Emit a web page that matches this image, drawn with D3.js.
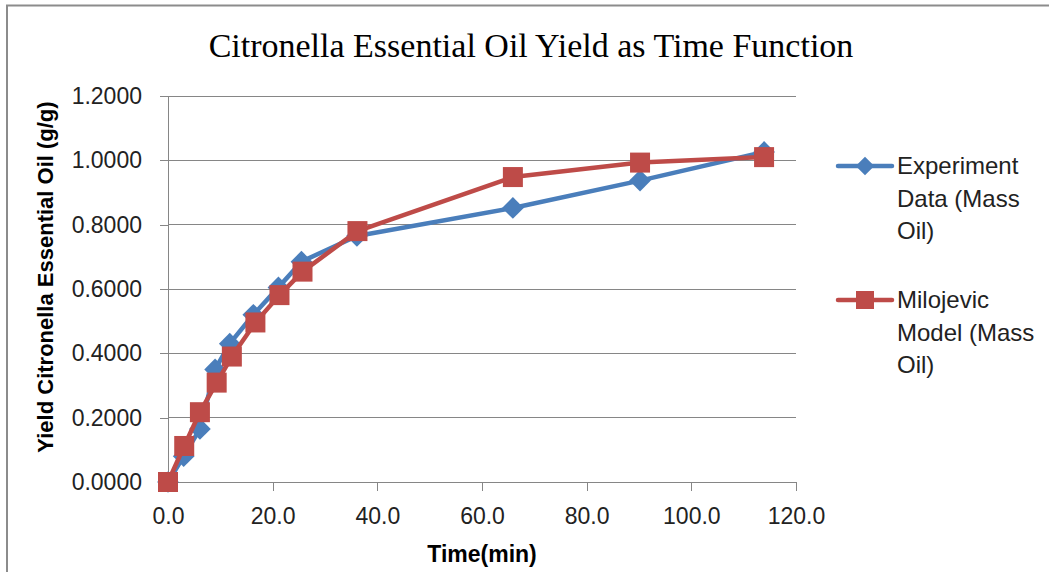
<!DOCTYPE html>
<html><head><meta charset="utf-8">
<script src="https://cdn.jsdelivr.net/npm/d3@7"></script>
<style>html,body{margin:0;padding:0;background:#fff;}svg{display:block;}</style>
</head><body>
<svg id="chart" width="1049" height="572"></svg>
<script>
const title = "Citronella Essential Oil Yield as Time Function";
const xLabel = "Time(min)";
const yLabel = "Yield Citronella Essential Oil (g/g)";
const xTicks = [0, 20, 40, 60, 80, 100, 120];
const yTicks = [0, 0.2, 0.4, 0.6, 0.8, 1.0, 1.2];

const expTime  = [0, 3.0, 6.1, 9.0, 11.8, 16.3, 21.1, 25.5, 36.1, 65.9, 90.2, 113.9];
const expYield = [0, 0.080, 0.165, 0.350, 0.430, 0.520, 0.605, 0.685, 0.765, 0.852, 0.937, 1.026];
const modTime  = [0, 3.1, 6.1, 9.3, 12.2, 16.7, 21.3, 25.7, 36.2, 65.9, 90.2, 113.9];
const modYield = [0, 0.112, 0.217, 0.309, 0.390, 0.496, 0.581, 0.654, 0.780, 0.948, 0.993, 1.010];

const legendExp = ["Experiment", "Data (Mass", "Oil)"];
const legendMod = ["Milojevic", "Model (Mass", "Oil)"];

const blue = "#4a7ebb", red = "#be4b48", grid = "#868686";
const svg = d3.select("#chart");
const x = d3.scaleLinear().domain([0, 120]).range([168, 796]);
const y = d3.scaleLinear().domain([0, 1.2]).range([482, 96]);

// chart border (top & left)
svg.append("path").attr("d", "M7,1049 L7,5.5 L1049,5.5").attr("fill","none").attr("stroke","#8c8c8c").attr("stroke-width",2);

// title
svg.append("text").attr("x", 531).attr("y", 57).attr("text-anchor","middle")
  .attr("font-family","'Liberation Serif','DejaVu Serif',serif").attr("font-size",34)
  .attr("fill","#000").text(title);

// gridlines
svg.append("g").selectAll("line").data(yTicks.filter(d=>d>0)).join("line")
  .attr("x1", 168).attr("x2", 796).attr("y1", d=>y(d)).attr("y2", d=>y(d))
  .attr("stroke", grid).attr("stroke-width", 1).attr("shape-rendering","crispEdges");

// axes
const fontTick = "'Liberation Sans',Arial,sans-serif";
const gx = svg.append("g").attr("transform","translate(0,482)")
  .call(d3.axisBottom(x).tickValues(xTicks).tickFormat(d3.format(".1f")).tickSize(9).tickSizeOuter(0).tickPadding(17));
const gy = svg.append("g").attr("transform","translate(168,0)")
  .call(d3.axisLeft(y).tickValues(yTicks).tickFormat(d3.format(".4f")).tickSize(8).tickSizeOuter(0).tickPadding(18));
[gx, gy].forEach(g => {
  g.selectAll("path.domain").attr("stroke", grid).attr("shape-rendering","crispEdges");
  g.selectAll(".tick line").attr("stroke", grid).attr("shape-rendering","crispEdges");
  g.selectAll("text").attr("font-family", fontTick).attr("font-size", 23).attr("fill","#222");
});

// axis titles
svg.append("text").attr("x", 482).attr("y", 562).attr("text-anchor","middle")
  .attr("font-family", fontTick).attr("font-weight","bold").attr("font-size",23).attr("fill","#000").text(xLabel);
svg.append("text").attr("transform","translate(53,277) rotate(-90)").attr("text-anchor","middle")
  .attr("font-family", fontTick).attr("font-weight","bold").attr("font-size",22).attr("fill","#000").text(yLabel);

// series
const line = d3.line().x(d=>x(d[0])).y(d=>y(d[1]));
const expPts = expTime.map((t,i)=>[t, expYield[i]]);
const modPts = modTime.map((t,i)=>[t, modYield[i]]);

svg.append("path").datum(expPts).attr("d", line).attr("fill","none").attr("stroke", blue).attr("stroke-width",4.5).attr("stroke-linejoin","round");
svg.append("g").selectAll("path").data(expPts).join("path")
  .attr("transform", d=>`translate(${x(d[0])},${y(d[1])})`)
  .attr("d", d3.symbol(d3.symbolDiamond2, 300)()).attr("fill", blue);

svg.append("path").datum(modPts).attr("d", line).attr("fill","none").attr("stroke", red).attr("stroke-width",4.5).attr("stroke-linejoin","round");
svg.append("g").selectAll("rect").data(modPts).join("rect")
  .attr("x", d=>x(d[0])-10).attr("y", d=>y(d[1])-10).attr("width",20).attr("height",20).attr("fill", red);

// legend
function legendEntry(cy, color, shape, lines) {
  const g = svg.append("g");
  g.append("line").attr("x1", 838).attr("x2", 892).attr("y1", cy).attr("y2", cy).attr("stroke", color).attr("stroke-width",4.5).attr("stroke-linecap","round");
  if (shape === "diamond") {
    g.append("path").attr("transform",`translate(865,${cy})`).attr("d", d3.symbol(d3.symbolDiamond2, 220)()).attr("fill", color);
  } else {
    g.append("rect").attr("x", 856).attr("y", cy-9).attr("width",18).attr("height",18).attr("fill", color);
  }
  g.selectAll("text").data(lines).join("text")
    .attr("x", 897).attr("y", (d,i)=>cy + 8 + i*32.7)
    .attr("font-family", fontTick).attr("font-size", 24).attr("fill","#222").text(d=>d);
}
legendEntry(166, blue, "diamond", legendExp);
legendEntry(300, red, "square", legendMod);
</script>
</body></html>
